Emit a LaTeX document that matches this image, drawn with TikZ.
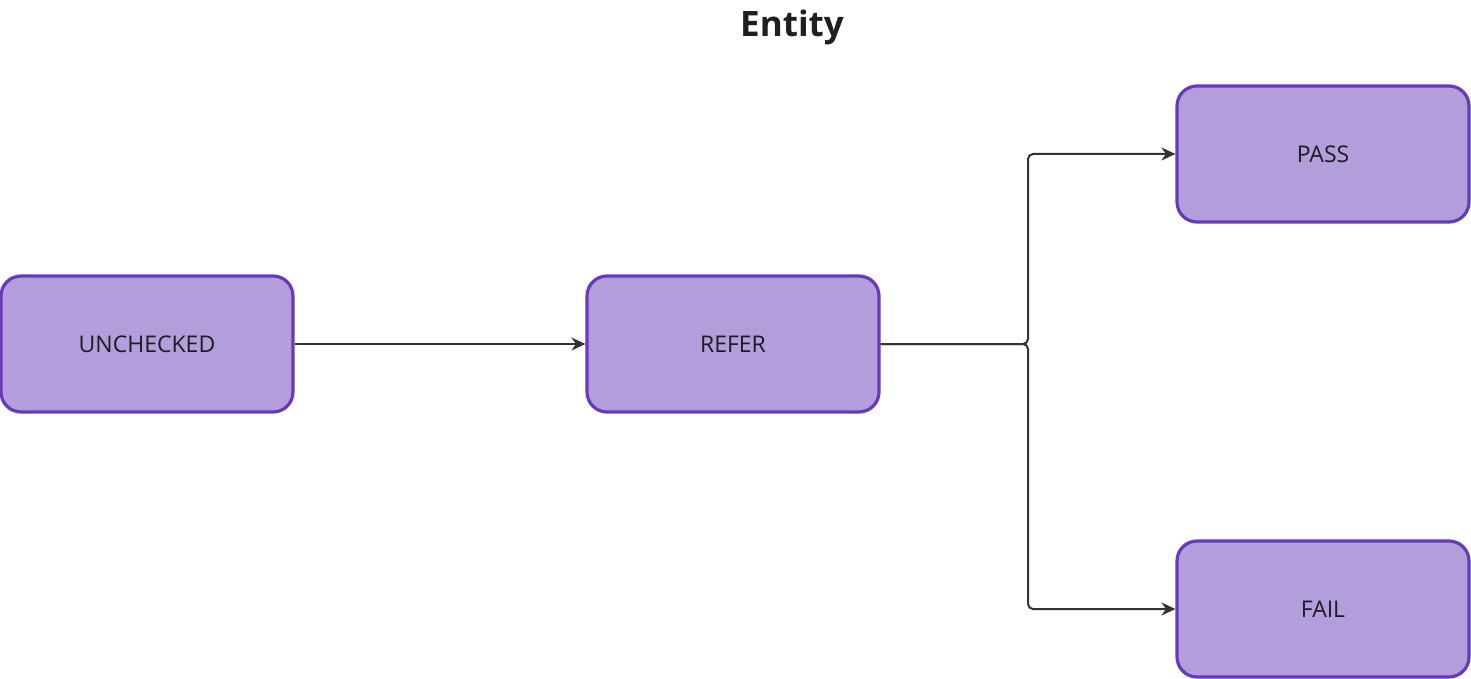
\documentclass[tikz,border=0pt]{standalone}
\usepackage{fontspec}
\setmainfont{Open Sans}
\usetikzlibrary{arrows.meta}
\definecolor{boxfill}{HTML}{B39DDB}
\definecolor{boxline}{HTML}{673AB7}
\definecolor{linkcol}{HTML}{333333}
\definecolor{textcol}{HTML}{1F1A24}
\tikzset{
  state/.style={draw=boxline, fill=boxfill, line width=3.2pt, rounded corners=20pt,
    minimum width=292pt, minimum height=136pt, text=textcol, font=\fontsize{23}{27}\selectfont},
  link/.style={draw=linkcol, line width=2pt, rounded corners=5pt, -{Stealth[length=14pt,width=13pt]}}
}
\begin{document}
\begin{tikzpicture}[x=1pt,y=-1pt]
    \useasboundingbox (0,0) rectangle (1471,679);
    \node[font=\bfseries\fontsize{35}{40}\selectfont, text=black!88] (title) at (792,27) {Entity};
    \node[state] (unchecked) at (147,344) {UNCHECKED};
    \node[state] (refer) at (733,344) {REFER};
    \node[state] (pass) at (1323,154) {PASS};
    \node[state] (fail) at (1323,609) {FAIL};
    \coordinate (split) at (1028,344);
    \draw[link] (unchecked) -- (refer);
    \draw[link] (refer.east) -- (split) |- (pass.west);
    \draw[link] (refer.east) -- (split) |- (fail.west);
\end{tikzpicture}
\end{document}
